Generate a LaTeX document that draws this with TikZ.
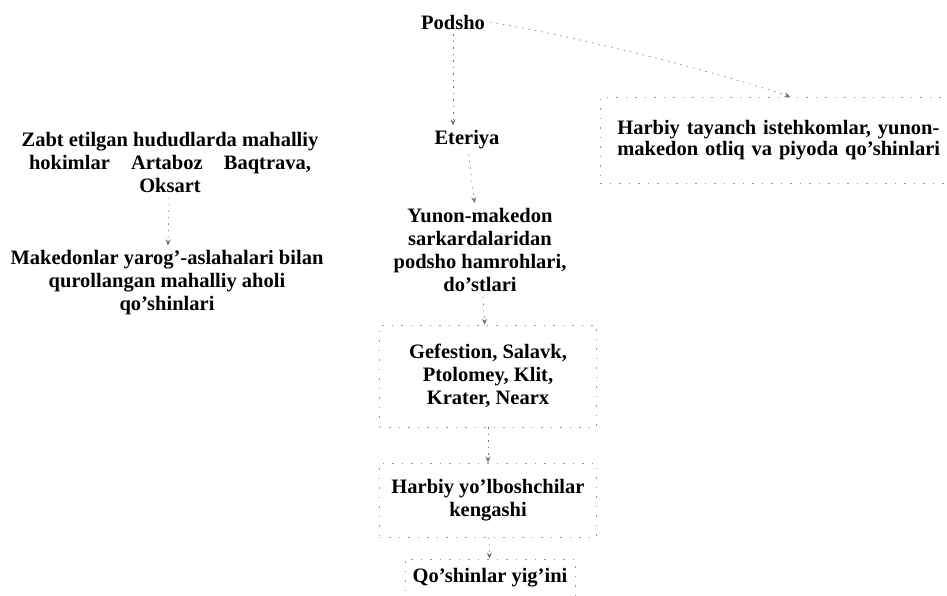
\documentclass[tikz,border=0pt]{standalone}
\usepackage{fontspec}
\setmainfont{Liberation Serif}
\usetikzlibrary{arrows.meta}
\begin{document}
\begin{tikzpicture}[x=1pt,y=-1pt,
  lbl/.style={font=\bfseries\fontsize{20.5}{23}\selectfont, align=center, inner sep=5pt},
  frame/.style={draw=black!40, line width=0.6pt, dash pattern=on 1.5pt off 8pt},
  link/.style={draw=black!55, line width=0.6pt, dash pattern=on 1.5pt off 5pt, -{Stealth[length=6pt,width=5pt]}}]
\useasboundingbox[fill=white] (0,0) rectangle (947,595);

\node[lbl] (podsho) at (453,22) {Podsho};
\node[lbl] (zabt) at (170,162) {Zabt etilgan hududlarda mahalliy\\
  \hbox to 282pt{hokimlar\hfil Artaboz\hfil Baqtrava,}\\ Oksart};
\node[lbl] (eteriya) at (467,140) {Eteriya};
\node[lbl, frame, anchor=west, align=left, text width=326pt, inner xsep=17pt,
  minimum height=86pt, font=\bfseries\fontsize{20.5}{21}\selectfont] (harb) at (600,140)
  {Harbiy tayanch istehkomlar, yunon-\\makedon otliq va piyoda qo'shinlari};
\coordinate (harbin) at ([xshift=10pt]harb.north);
\node[lbl] (yunon) at (480,250) {Yunon-makedon\\ sarkardalaridan\\ podsho hamrohlari,\\ do'stlari};
\node[lbl] (maked) at (167,283) {Makedonlar yarog'-aslahalari bilan\\ qurollangan mahalliy aholi\\ qo'shinlari};
\node[lbl, frame, minimum width=217pt, minimum height=102pt] (gef) at (488,376) {Gefestion, Salavk,\\ Ptolomey, Klit,\\ Krater, Nearx};
\node[lbl, frame, minimum width=217pt, minimum height=74pt] (kengash) at (488,500) {Harbiy yo'lboshchilar\\ kengashi};
\node[lbl, frame, minimum width=170pt, minimum height=38pt] (yigin) at (490,578) {Qo'shinlar yig'ini};

\draw[link] (podsho.south) -- (podsho.south |- eteriya.north);
\draw[link] (podsho.east) .. controls (620,45) and (740,80) .. (harbin);
\draw[link] (zabt) -- (maked);
\draw[link] (eteriya) -- (yunon);
\draw[link] (yunon) -- (gef);
\draw[link] (gef) -- (kengash);
\draw[link] (kengash) -- (yigin);
\end{tikzpicture}
\end{document}
